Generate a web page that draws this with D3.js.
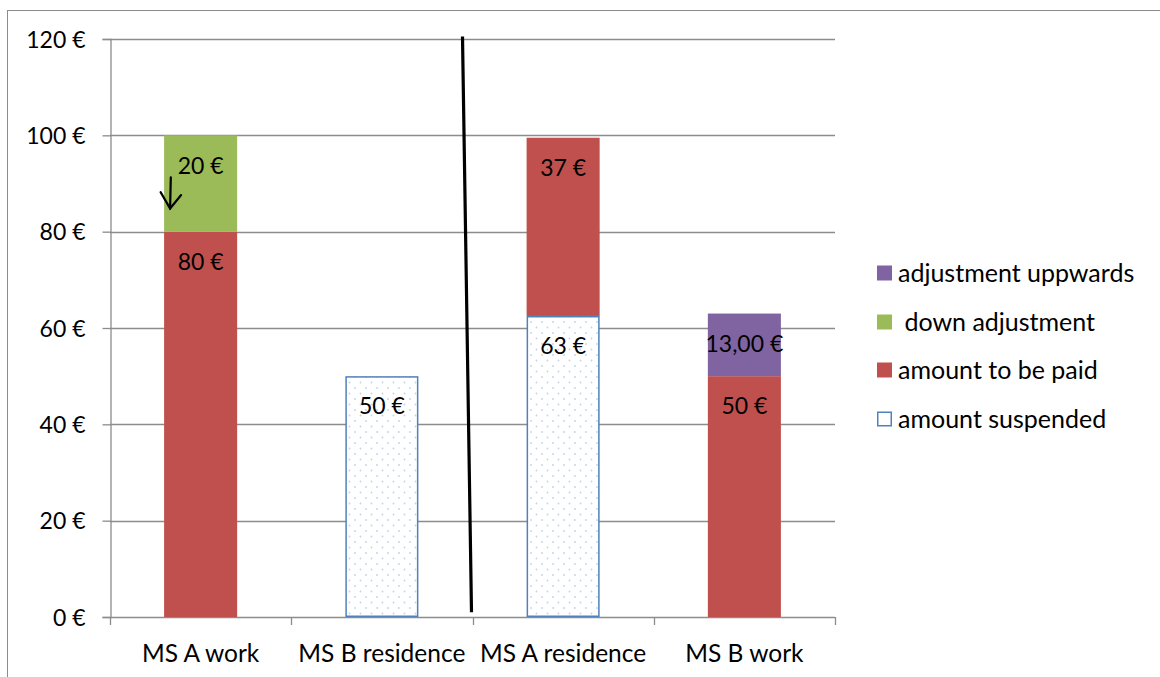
<!DOCTYPE html>
<html>
<head>
<meta charset="utf-8">
<script src="https://cdn.jsdelivr.net/npm/d3@7"></script>
<style>
  body { margin: 0; background: #fff; }
  svg text { font-family: Lato, "Open Sans", sans-serif; fill: #000; }
</style>
</head>
<body>
<div id="chart"></div>
<script>
const categories = ["MS A work", "MS B residence", "MS A residence", "MS B work"];
// stacked bottom -> top
const suspended = [0, 50, 62.5, 0];
const toBePaid = [80, 0, 37, 50];
const downAdj = [20, 0, 0, 0];
const upAdj = [0, 0, 0, 13];
const yTicks = [0, 20, 40, 60, 80, 100, 120];
const legendLabels = ["adjustment uppwards", " down adjustment", "amount to be paid", "amount suspended"];

const width = 1160, height = 677;
const margin = { top: 39, right: 325, bottom: 60, left: 110 };

const series = [
  { key: "suspended", values: suspended, fill: "url(#dots)", stroke: "#4f81bd", fmt: d => Math.round(d) + " €" },
  { key: "paid", values: toBePaid, fill: "#c0504d", stroke: "none", fmt: d => Math.round(d) + " €" },
  { key: "down", values: downAdj, fill: "#9bbb59", stroke: "none", fmt: d => Math.round(d) + " €" },
  { key: "up", values: upAdj, fill: "#8064a2", stroke: "none", fmt: d => d.toFixed(2).replace(".", ",") + " €" },
];

const svg = d3.select("#chart").append("svg")
  .attr("width", width).attr("height", height);

const defs = svg.append("defs");
const pat = defs.append("pattern").attr("id", "dots")
  .attr("patternUnits", "userSpaceOnUse").attr("width", 11).attr("height", 11);
pat.append("rect").attr("width", 11).attr("height", 11).attr("fill", "#fff");
pat.append("circle").attr("cx", 3).attr("cy", 3).attr("r", 0.9).attr("fill", "#c2d3ea");
pat.append("circle").attr("cx", 8.5).attr("cy", 8.5).attr("r", 0.9).attr("fill", "#c2d3ea");

// outer frame
svg.append("rect").attr("x", 7.5).attr("y", 10.5)
  .attr("width", width + 20).attr("height", height + 20)
  .attr("fill", "none").attr("stroke", "#8c8c8c").attr("stroke-width", 1);

const x = d3.scaleBand().domain(categories)
  .range([margin.left, width - margin.right])
  .paddingInner(0.597).paddingOuter(0.2985);
const y = d3.scaleLinear().domain([0, 120]).range([height - margin.bottom, margin.top]);

const x0 = margin.left, x1 = width - margin.right;

// gridlines
svg.append("g").selectAll("line").data(yTicks.filter(d => d > 0)).join("line")
  .attr("x1", x0).attr("x2", x1)
  .attr("y1", d => Math.round(y(d)) + 0.5).attr("y2", d => Math.round(y(d)) + 0.5)
  .attr("stroke", "#8c8c8c").attr("stroke-width", 1.3);

// y axis
const yAxis = svg.append("g").attr("transform", `translate(${x0 + 0.5},0)`)
  .call(d3.axisLeft(y).tickValues(yTicks).tickSize(8).tickPadding(17).tickFormat(d => d + " €"));
yAxis.select(".domain").attr("stroke", "#8c8c8c").attr("stroke-width", 1.3);
yAxis.selectAll(".tick line").attr("stroke", "#8c8c8c").attr("stroke-width", 1.3);
yAxis.selectAll("text").style("font-size", "23px").attr("dy", "0.36em");

// x axis
const step = x.step();
const bounds = d3.range(categories.length + 1).map(i => x0 + i * step);
const xAxis = svg.append("g");
xAxis.append("line").attr("x1", x0).attr("x2", x1)
  .attr("y1", y(0) + 0.5).attr("y2", y(0) + 0.5)
  .attr("stroke", "#8c8c8c").attr("stroke-width", 1.3);
xAxis.selectAll(".xt").data(bounds).join("line").attr("class", "xt")
  .attr("x1", d => Math.round(d) + 0.5).attr("x2", d => Math.round(d) + 0.5)
  .attr("y1", y(0)).attr("y2", y(0) + 8)
  .attr("stroke", "#8c8c8c").attr("stroke-width", 1.3);
xAxis.selectAll("text").data(categories).join("text")
  .attr("x", d => x(d) + x.bandwidth() / 2).attr("y", y(0) + 36)
  .attr("dy", "0.36em").attr("text-anchor", "middle")
  .style("font-size", "24.5px").text(d => d);

// stacked bars
const stackData = categories.map((c, i) => {
  let base = 0;
  return series.map(s => {
    const v = s.values[i];
    const seg = { cat: c, s, v, y0: base, y1: base + v };
    base += v;
    return seg;
  });
}).flat().filter(d => d.v > 0);

const bars = svg.append("g");
bars.selectAll("rect").data(stackData).join("rect")
  .attr("x", d => x(d.cat) + (d.s.stroke !== "none" ? 0.75 : 0))
  .attr("width", d => x.bandwidth() - (d.s.stroke !== "none" ? 1.5 : 0))
  .attr("y", d => y(d.y1) + (d.s.stroke !== "none" ? 0.75 : 0))
  .attr("height", d => y(d.y0) - y(d.y1) - (d.s.stroke !== "none" ? 1.5 : 0))
  .attr("fill", d => d.s.fill)
  .attr("stroke", d => d.s.stroke).attr("stroke-width", 1.5);

bars.selectAll("text").data(stackData).join("text")
  .attr("x", d => x(d.cat) + x.bandwidth() / 2)
  .attr("y", d => y(d.y1) + 30)
  .attr("dy", "0.36em").attr("text-anchor", "middle")
  .style("font-size", "23px")
  .text(d => d.s.fmt(d.v));

// annotations: divider line and arrow
svg.append("line")
  .attr("x1", bounds[2] - 10).attr("y1", y(120.5))
  .attr("x2", bounds[2] - 1).attr("y2", y(1))
  .attr("stroke", "#000").attr("stroke-width", 3.2);

const ax = x(categories[0]) + 6;
const arrow = svg.append("g").attr("fill", "none").attr("stroke", "#000")
  .attr("stroke-width", 2.2).attr("stroke-linecap", "round");
arrow.append("line").attr("x1", ax + 0.7).attr("y1", y(91.3)).attr("x2", ax).attr("y2", y(84.8));
arrow.append("polyline").attr("points",
  [[ax - 9.5, y(88.2)], [ax, y(84.8)], [ax + 11, y(87.6)]].map(p => p.join(",")).join(" "));

// legend
const legendSeries = series.slice().reverse();
const lg = svg.append("g").attr("transform", "translate(877,0)");
const rowY = [273, 322, 370, 419];
const items = lg.selectAll("g").data(legendSeries).join("g")
  .attr("transform", (d, i) => `translate(0,${rowY[i]})`);
items.append("rect")
  .attr("x", d => d.stroke !== "none" ? 0.75 : 0).attr("y", d => d.stroke !== "none" ? -6.75 : -7.5)
  .attr("width", d => d.stroke !== "none" ? 13.5 : 15).attr("height", d => d.stroke !== "none" ? 13.5 : 15)
  .attr("fill", d => d.stroke !== "none" ? "#fff" : d.fill)
  .attr("stroke", d => d.stroke).attr("stroke-width", 1.5);
items.append("text").attr("x", 21).attr("dy", "0.36em")
  .style("font-size", "25px").style("white-space", "pre")
  .attr("xml:space", "preserve")
  .text((d, i) => legendLabels[i]);
</script>
</body>
</html>
